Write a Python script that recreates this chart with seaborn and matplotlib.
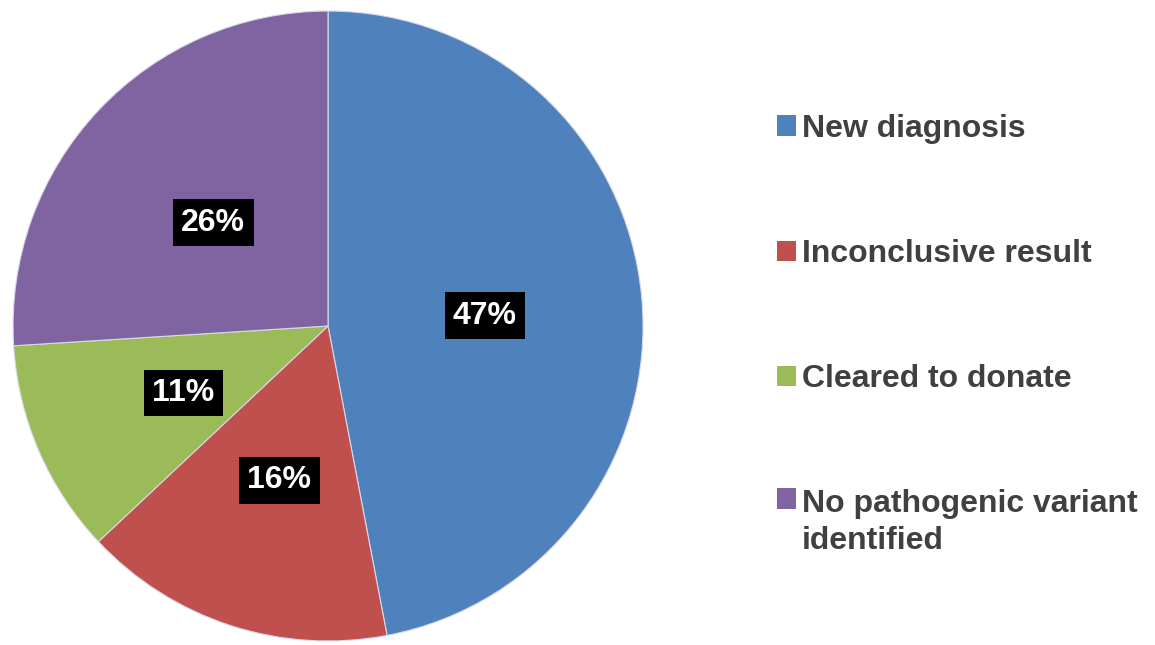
import matplotlib
matplotlib.use("Agg")
import matplotlib.pyplot as plt
import seaborn as sns
from matplotlib.patches import Patch, Rectangle
from matplotlib.legend_handler import HandlerPatch

# ---------------------------------------------------
# DATA
# ---------------------------------------------------

categories = [
    "New diagnosis",
    "Inconclusive result",
    "Cleared to donate",
    "No pathogenic variant\nidentified"
]
shares = [47, 16, 11, 26]
pct_labels = ["47%", "16%", "11%", "26%"]

colors = sns.color_palette(["#4F81BD", "#C0504D", "#9BBB59", "#8064A2"])

# ---------------------------------------------------
# STYLE
# ---------------------------------------------------

sns.set_theme(style="white")
plt.rcParams["font.family"] = ["Liberation Sans", "DejaVu Sans"]

fig = plt.figure(figsize=(11.55, 6.45), dpi=100)
ax = fig.add_axes([0.01126, 0.0062, 0.5455, 0.9767])

wedges, texts = ax.pie(
    shares,
    colors=colors,
    startangle=90,
    counterclock=False,
    labels=pct_labels,
    labeldistance=0.5,
    wedgeprops={"edgecolor": "#d8d8e8", "linewidth": 0.8},
    textprops={"color": "white", "fontsize": 23, "fontweight": "bold"}
)

for t in texts:
    x, y = t.get_position()
    t.set_position((x, y - 0.014))
    t.set_horizontalalignment("center")
    t.set_verticalalignment("center")
    t.set_bbox({"facecolor": "black", "edgecolor": "none", "pad": 6})

ax.set_xlim(-1.0, 1.0)
ax.set_ylim(-1.0, 1.0)
ax.set_aspect("equal")

# ---------------------------------------------------
# LEGEND
# ---------------------------------------------------

legend_size = 23
line_spacing = 1.27


def top_square(legend, orig_handle, xdescent, ydescent, width, height, fontsize):
    # marker lines up with the first line of a two-line label
    shift = 0.5 * fontsize * 1.2 * line_spacing
    return Rectangle((-xdescent, -ydescent + shift), width, height)


handles = [Patch(facecolor=c, edgecolor="none") for c in colors]

leg = fig.legend(
    handles,
    categories,
    loc="center left",
    bbox_to_anchor=(0.6585, 0.481),
    frameon=False,
    fontsize=legend_size,
    handlelength=0.6,
    handleheight=0.6,
    handletextpad=0.2,
    labelspacing=2.98,
    borderpad=0,
    handler_map={handles[3]: HandlerPatch(patch_func=top_square)}
)

for t in leg.get_texts():
    t.set_color("#404040")
    t.set_fontweight("bold")
    t.set_linespacing(line_spacing)

fig.savefig("out.png", dpi=100)
